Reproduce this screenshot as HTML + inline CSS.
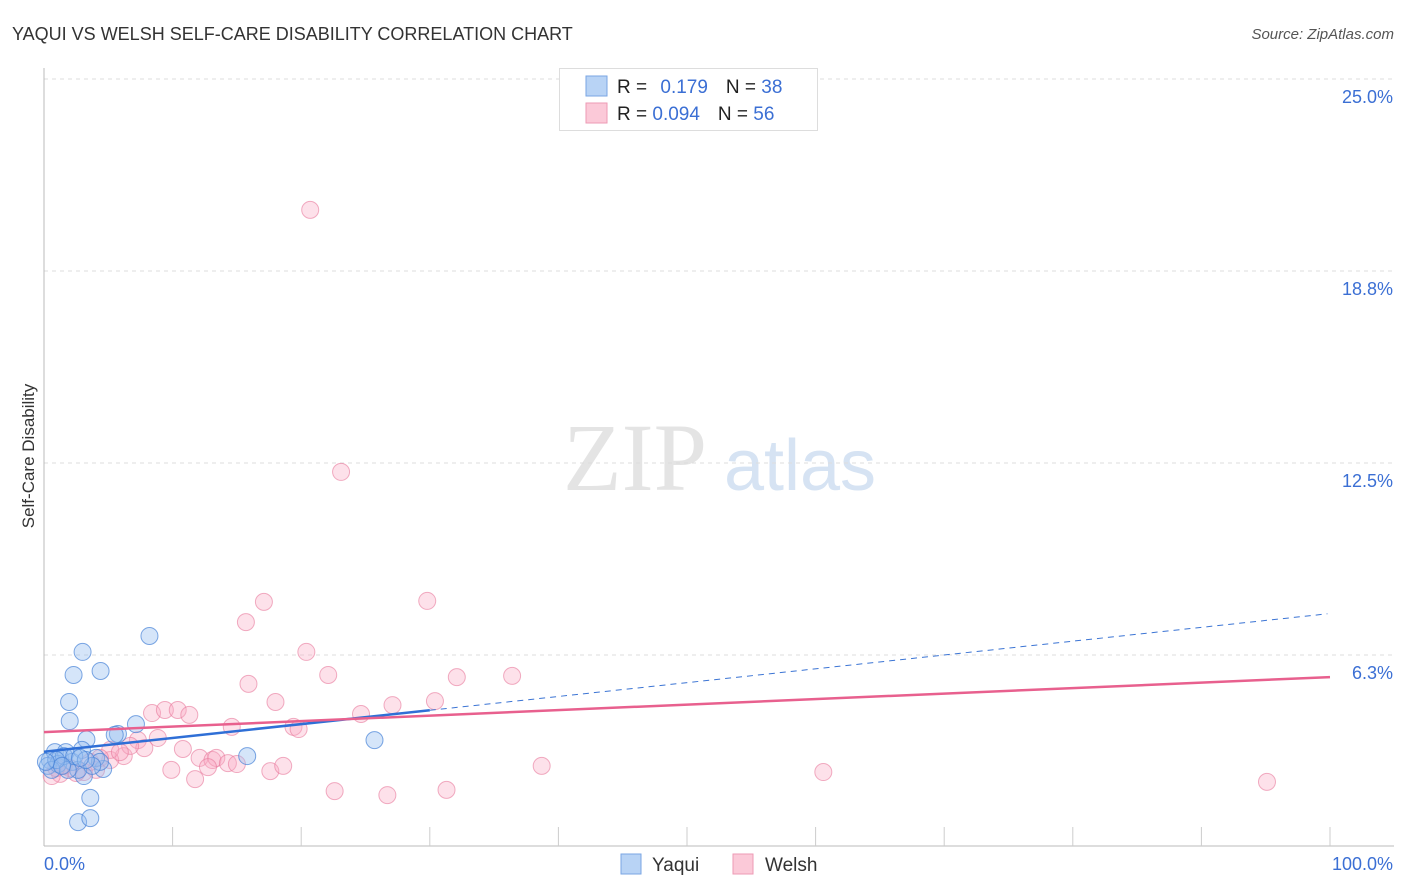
<!DOCTYPE html>
<html><head><meta charset="utf-8"><style>
body{margin:0;background:#fff;font-family:"Liberation Sans",sans-serif;}
#wrap{position:relative;width:1406px;height:892px;overflow:hidden;}
</style></head><body>
<div id="wrap">
<svg id="chart" width="1406" height="892" xmlns="http://www.w3.org/2000/svg">
<text x="12" y="40" font-size="18" fill="#333">YAQUI VS WELSH SELF-CARE DISABILITY CORRELATION CHART</text>
<text x="1394" y="39" font-size="15" fill="#555" font-style="italic" text-anchor="end">Source: ZipAtlas.com</text>
<g>
<text x="635" y="490" font-size="96" font-family="Liberation Serif,serif" fill="#e4e4e4" text-anchor="middle">ZIP</text>
<text x="800" y="490" font-size="72" fill="#d6e3f3" text-anchor="middle">atlas</text>
</g>
<g id="grid"></g>
<g id="axes"></g>
<g id="pts"></g>
<g id="trends"></g>
<text transform="translate(34,456) rotate(-90)" font-size="17" fill="#333" text-anchor="middle">Self-Care Disability</text>
<g>
<rect x="559.5" y="68.5" width="258" height="62" fill="#fff" stroke="#ddd"/>
<rect x="586" y="76" width="21" height="20" fill="#b8d3f5" stroke="#7aa6e3"/>
<rect x="586" y="103" width="21" height="20" fill="#fbc9d8" stroke="#ee9ab4"/>
<text x="617" y="93" font-size="19" fill="#222">R = <tspan fill="#3b6fd4" dx="8">0.179</tspan><tspan fill="#222" dx="18">N = </tspan><tspan fill="#3b6fd4">38</tspan></text>
<text x="617" y="120" font-size="19" fill="#222">R = <tspan fill="#3b6fd4">0.094</tspan><tspan fill="#222" dx="18">N = </tspan><tspan fill="#3b6fd4">56</tspan></text>
</g>
<g>
<rect x="621" y="854" width="20" height="20" fill="#b8d3f5" stroke="#7aa6e3"/>
<text x="652" y="871" font-size="19" fill="#333">Yaqui</text>
<rect x="733" y="854" width="20" height="20" fill="#fbc9d8" stroke="#ee9ab4"/>
<text x="765" y="871" font-size="19" fill="#333">Welsh</text>
</g>
</svg>
</div>
<script>
const yTicks=[6.25,12.5,18.75,25];
const yTickLabels=["6.3%","12.5%","18.8%","25.0%"];
const xTickLabels=["0.0%","100.0%"];
const yaquiX=[3.0,8.2,2.3,4.4,1.95,2.0,3.3,5.75,7.15,15.8,25.7,3.6,2.65,3.6,4.6,3.1,0.45,0.85,1.25,1.7,0.3,2.2,4.05,2.65,1.1,1.55,0.6,4.35,2.95,5.5,1.85,2.35,0.95,3.75,1.4,0.15,3.25,2.8];
const yaquiY=[6.35,6.87,5.6,5.73,4.72,4.1,3.5,3.68,4.0,2.96,3.48,1.6,0.81,0.94,2.54,2.31,2.83,3.09,2.9,3.09,2.64,2.77,2.9,2.51,2.7,2.96,2.51,2.77,3.16,3.65,2.51,2.96,2.83,2.64,2.64,2.77,2.83,2.9];
const welshX=[20.7,23.1,17.1,29.8,15.7,20.4,22.1,15.9,32.1,36.4,18.0,30.4,27.1,24.65,8.4,9.4,10.4,11.3,14.6,19.4,19.8,10.8,12.1,13.1,13.4,14.3,15.0,12.75,11.75,9.9,17.6,18.6,22.6,26.7,31.3,38.7,60.6,95.1,8.85,7.3,7.8,6.2,5.15,4.05,3.1,2.0,1.25,0.6,1.55,5.15,6.7,5.9,2.5,3.6,4.35,0.95];
const welshY=[20.74,12.21,7.98,8.01,7.32,6.35,5.6,5.31,5.53,5.57,4.72,4.75,4.62,4.33,4.36,4.46,4.46,4.3,3.91,3.91,3.84,3.19,2.9,2.83,2.9,2.73,2.7,2.6,2.21,2.51,2.47,2.64,1.82,1.69,1.86,2.64,2.44,2.12,3.55,3.48,3.22,2.96,2.83,2.51,2.44,2.57,2.38,2.31,2.64,3.16,3.29,3.09,2.41,2.77,2.9,2.57];
const yaquiTrend=[3.1,7.6]; // value at x=0 and x=100
const yaquiSolidEnd=30;
const welshTrend=[3.74,5.53];

const NS="http://www.w3.org/2000/svg";
const X0=44,X1=1330,YB=847,PX_PER=30.72;
const xs=v=>X0+(X1-X0)*v/100;
const ys=v=>YB-v*PX_PER;
function mk(tag,attrs,parent){const e=document.createElementNS(NS,tag);for(const k in attrs)e.setAttribute(k,attrs[k]);parent.appendChild(e);return e;}
const grid=document.getElementById('grid'),axes=document.getElementById('axes'),pts=document.getElementById('pts'),tr=document.getElementById('trends');
yTicks.forEach((t,i)=>{
 const l=mk('line',{x1:X0,x2:1394,y1:ys(t),y2:ys(t),stroke:'#ddd','stroke-dasharray':'4,4'},grid);
 
 
 const tx=mk('text',{x:1393,y:ys(t)+24,'font-size':18,fill:'#3b6fd4','text-anchor':'end'},axes);
 tx.textContent=yTickLabels[i];
 
 
});
const ya=mk('line',{x1:44,x2:44,y1:68,y2:846,stroke:'#bbb'},axes);


const xa=mk('line',{x1:44,x2:1394,y1:846,y2:846,stroke:'#bbb'},axes);


for(let i=1;i<=10;i++){
 const tk=mk('line',{x1:xs(i*10),x2:xs(i*10),y1:827,y2:846,stroke:'#ccc'},axes);
 
 
}
const xl0=mk('text',{x:44,y:870,'font-size':18,fill:'#3b6fd4'},axes);
xl0.textContent=xTickLabels[0];


const xl1=mk('text',{x:1393,y:870,'font-size':18,fill:'#3b6fd4','text-anchor':'end'},axes);
xl1.textContent=xTickLabels[1];



welshX.forEach((v,i)=>{
 const c=mk('circle',{cx:xs(v),cy:ys(welshY[i]),r:8.5,fill:'rgba(248,170,195,0.35)',stroke:'rgba(232,120,155,0.6)','stroke-width':1},pts);
 
 
});
yaquiX.forEach((v,i)=>{
 const c=mk('circle',{cx:xs(v),cy:ys(yaquiY[i]),r:8.5,fill:'rgba(150,190,240,0.4)',stroke:'rgba(70,130,215,0.7)','stroke-width':1},pts);
 
 
});
const yv=x=>yaquiTrend[0]+(yaquiTrend[1]-yaquiTrend[0])*x/100;
const yd=mk('line',{x1:xs(yaquiSolidEnd),y1:ys(yv(yaquiSolidEnd)),x2:xs(99.8),y2:ys(yv(99.8)),stroke:'#3b74d4','stroke-width':1,'stroke-dasharray':'6,5'},tr);


const ys1=mk('line',{x1:xs(0),y1:ys(yv(0)),x2:xs(yaquiSolidEnd),y2:ys(yv(yaquiSolidEnd)),stroke:'#2f6fd6','stroke-width':2.5},tr);


const wl=mk('line',{x1:xs(0),y1:ys(welshTrend[0]),x2:xs(100),y2:ys(welshTrend[1]),stroke:'#e8608e','stroke-width':2.5},tr);


</script>
</body></html>
